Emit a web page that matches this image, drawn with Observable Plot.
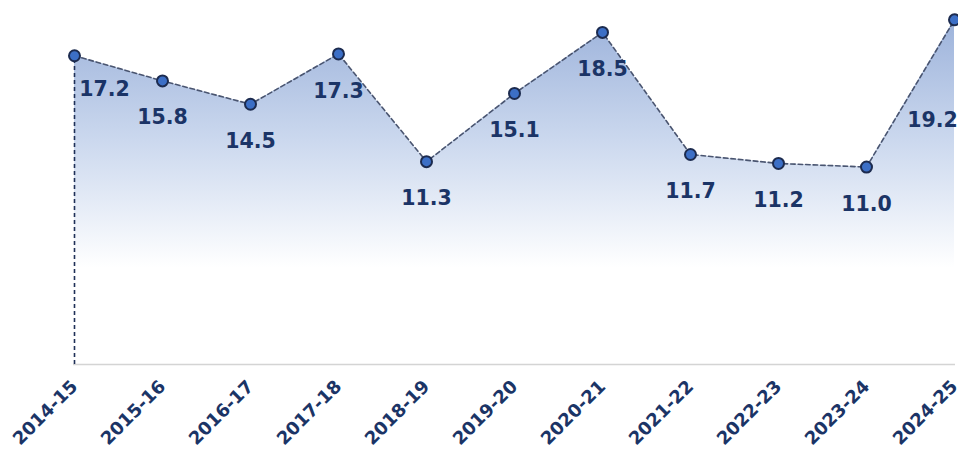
<!DOCTYPE html>
<html>
<head>
<meta charset="utf-8">
<script src="https://cdn.jsdelivr.net/npm/d3@7"></script>
<script src="https://cdn.jsdelivr.net/npm/@observablehq/plot@0.6"></script>
<style>
  html, body { margin: 0; padding: 0; background: #fff; overflow: hidden; }
  #chart svg { display: block; }
</style>
</head>
<body>
<div id="chart"></div>
<script>
const years = ["2014-15","2015-16","2016-17","2017-18","2018-19","2019-20","2020-21","2021-22","2022-23","2023-24","2024-25"];
const values = [17.2, 15.8, 14.5, 17.3, 11.3, 15.1, 18.5, 11.7, 11.2, 11.0, 19.2];

const data = years.map((year, i) => ({year, value: values[i]}));
const first = data.slice(0, 1);
const last = data.slice(-1);
const middle = data.slice(1, -1);

const navy = "#1b3466";
const font = "DejaVu Sans";

const gradient = () => {
  const defs = d3.create("svg:defs");
  const g = defs.append("linearGradient")
    .attr("id", "areaGrad")
    .attr("x1", 0).attr("y1", 0).attr("x2", 0).attr("y2", 1);
  g.append("stop").attr("offset", "0%").attr("stop-color", "#9db3db");
  g.append("stop").attr("offset", "35%").attr("stop-color", "#cbd8ee");
  g.append("stop").attr("offset", "72%").attr("stop-color", "#ffffff");
  g.append("stop").attr("offset", "100%").attr("stop-color", "#ffffff");
  return defs.node();
};

const labelStyle = {
  text: d => d.value.toFixed(1),
  fill: navy,
  fontSize: 20.5,
  fontWeight: "bold",
  fontFamily: font
};

const chart = Plot.plot({
  width: 958,
  height: 450,
  marginLeft: 73,
  marginRight: 3,
  marginTop: 5,
  marginBottom: 86,
  x: {type: "point", domain: years, padding: 0, label: null},
  y: {domain: [0, 20], axis: null},
  style: {background: "#fff", overflow: "visible"},
  marks: [
    gradient,
    Plot.areaY(data, {x: "year", y: "value", fill: "url(#areaGrad)"}),
    Plot.ruleY([0], {stroke: "#d4d4d4", strokeWidth: 1.5}),
    Plot.ruleX(first, {x: "year", y1: 0, y2: "value", stroke: "#1f3057", strokeWidth: 1.6, strokeDasharray: "4,3"}),
    Plot.lineY(data, {x: "year", y: "value", stroke: "#4a5570", strokeWidth: 1.6, strokeDasharray: "4.5,3"}),
    Plot.dot(data, {x: "year", y: "value", r: 5.5, fill: "#3c6fc6", stroke: "#1c2b4f", strokeWidth: 2}),
    Plot.text(first, {x: "year", y: "value", ...labelStyle, dx: 30, dy: 34}),
    Plot.text(middle, {x: "year", y: "value", ...labelStyle, dy: 37}),
    Plot.text(last, {x: "year", y: "value", ...labelStyle, dx: -22, dy: 101}),
    Plot.axisX({
      tickSize: 0,
      tickRotate: -45,
      tickPadding: 19,
      fontSize: 18,
      fontWeight: "bold",
      fontFamily: font,
      fill: navy,
      label: null
    })
  ]
});

document.getElementById("chart").appendChild(chart);
</script>
</body>
</html>
